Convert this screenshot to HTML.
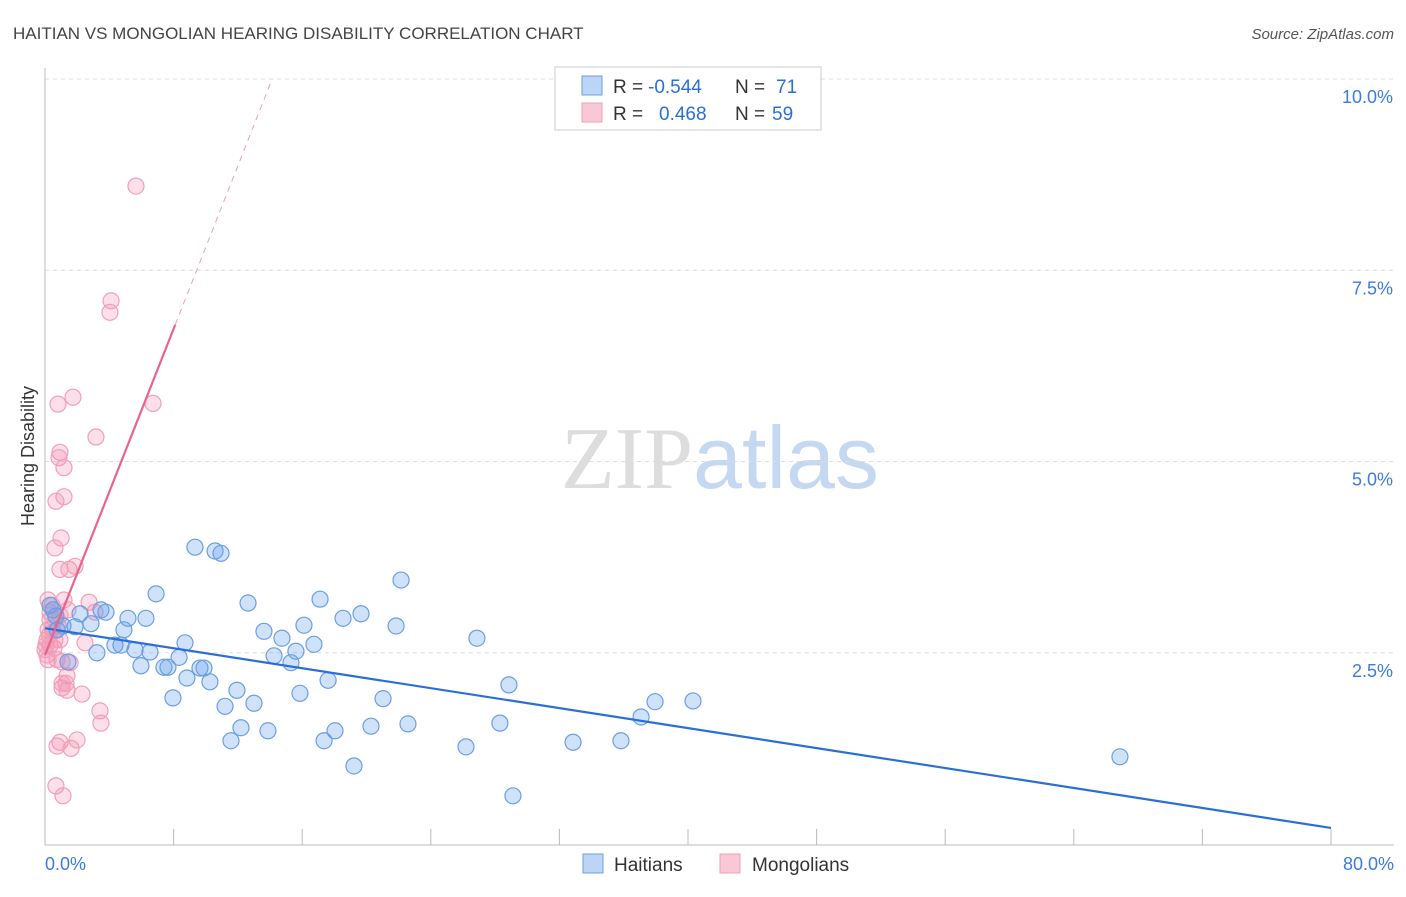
<!DOCTYPE html>
<html><head><meta charset="utf-8"><style>
body{margin:0;background:#fff;font-family:"Liberation Sans",sans-serif}
</style></head><body>
<svg id="chart" width="1406" height="892" viewBox="0 0 1406 892" xmlns="http://www.w3.org/2000/svg" font-family="Liberation Sans, sans-serif">
<text x="13" y="39" font-size="17" fill="#444">HAITIAN VS MONGOLIAN HEARING DISABILITY CORRELATION CHART</text>
<text x="1394" y="39" font-size="15" fill="#555" text-anchor="end" font-style="italic">Source: ZipAtlas.com</text>
<text x="720" y="488" text-anchor="middle" font-size="88"><tspan fill="#ddd" font-family="Liberation Serif, serif">ZIP</tspan><tspan fill="#c5d8f2">atlas</tspan></text>
<g id="grid"></g><g id="axes"></g><g id="pts"></g><g id="lines"></g>
<text transform="translate(34,456) rotate(-90)" text-anchor="middle" font-size="18" fill="#333">Hearing Disability</text>
<g>
<rect x="555" y="67" width="266" height="63" fill="#fff" stroke="#ccc"/>
<rect x="582" y="76" width="20" height="19" fill="#bcd4f5" stroke="#6a9fe0"/>
<rect x="582" y="103" width="20" height="19" fill="#f9c8d6" stroke="#f0a0b8"/>
<text x="613" y="93" font-size="19" fill="#333">R =</text>
<text x="648" y="93" font-size="19" fill="#2a6fd6">-0.544</text>
<text x="735" y="93" font-size="19" fill="#333">N =</text>
<text x="776" y="93" font-size="19" fill="#2a6fd6">71</text>
<text x="613" y="120" font-size="19" fill="#333">R =</text>
<text x="659" y="120" font-size="19" fill="#2a6fd6">0.468</text>
<text x="735" y="120" font-size="19" fill="#333">N =</text>
<text x="772" y="120" font-size="19" fill="#2a6fd6">59</text>
</g>
<g>
<rect x="583" y="854" width="20" height="19" fill="#bcd4f5" stroke="#6a9fe0"/>
<text x="614" y="871" font-size="19" fill="#333">Haitians</text>
<rect x="720" y="854" width="20" height="19" fill="#f9c8d6" stroke="#f0a0b8"/>
<text x="752" y="871" font-size="19" fill="#333">Mongolians</text>
</g>
</svg>
<script>
const blueX=[9.33,10.58,10.95,6.91,12.63,22.15,17.11,19.66,18.54,21.84,26.87,13.62,14.74,16.11,16.73,8.71,5.16,6.28,3.79,3.48,2.18,2.86,1.87,1.12,0.68,0.50,0.31,4.91,4.35,4.73,5.60,6.53,3.23,1.43,7.40,7.65,5.97,8.34,9.64,9.89,8.83,10.26,11.94,14.25,15.61,15.30,17.61,15.86,7.96,11.20,13.00,21.03,28.86,37.95,40.31,37.08,28.30,22.58,20.28,18.04,17.36,12.19,13.87,11.57,26.19,32.85,35.83,19.22,66.87,29.11,0.75];
const blueY=[3.88,3.83,3.80,3.27,3.15,3.45,3.20,3.01,2.95,2.85,2.69,2.78,2.69,2.86,2.61,2.63,2.95,2.95,3.03,3.06,3.01,2.88,2.84,2.85,2.98,3.06,3.12,2.80,2.60,2.60,2.54,2.51,2.50,2.38,2.31,2.31,2.33,2.44,2.30,2.30,2.17,2.12,2.01,2.46,2.52,2.37,2.14,1.97,1.91,1.80,1.84,1.90,2.08,1.86,1.87,1.66,1.58,1.57,1.54,1.48,1.35,1.52,1.48,1.35,1.27,1.33,1.35,1.02,1.14,0.63,2.80];
const pinkX=[5.66,4.11,4.04,6.72,1.74,0.81,3.17,0.93,0.87,1.18,1.18,0.68,1.00,0.62,0.93,1.49,1.87,2.74,3.11,0.19,0.31,0.62,0.44,0.25,0.12,0.31,0.56,0.93,1.18,1.43,2.49,1.06,0.75,1.56,1.37,1.31,1.06,1.37,2.30,3.42,1.06,3.48,1.99,0.93,0.75,1.62,0.68,1.12,0.19,0.31,0.44,0.12,0.06,0.19,0.62,0.81,0.50,0.00,0.93];
const pinkY=[8.60,7.10,6.95,5.76,5.84,5.75,5.32,5.12,5.05,4.92,4.54,4.48,4.00,3.87,3.59,3.59,3.63,3.16,3.03,3.19,3.03,2.93,2.82,2.73,2.67,2.60,2.56,2.67,3.19,3.06,2.63,2.38,2.41,2.37,2.20,2.10,2.04,2.01,1.96,1.74,2.10,1.58,1.36,1.33,1.28,1.25,0.76,0.63,2.80,2.93,3.12,2.47,2.60,2.41,2.67,2.86,2.77,2.54,2.99];
const blueTrend=[2.82,0.21];
const pinkTrend=[2.47,0.533];
const yTicks=[2.5,5.0,7.5,10.0];
const xTickLabels=["0.0%","80.0%"];
const NS="http://www.w3.org/2000/svg";
const X=v=>45+v*16.075, Y=v=>844-v*76.5;
function mk(t,a,p){const e=document.createElementNS(NS,t);for(const k in a)e.setAttribute(k,a[k]);document.getElementById(p).appendChild(e);return e;}
yTicks.forEach(t=>{
  const l=mk('line',{x1:45,x2:1394,y1:Y(t),y2:Y(t),stroke:'#ddd','stroke-dasharray':'4,4'},'grid');
  
  
  const tx=mk('text',{x:1393,y:Y(t)+24,'text-anchor':'end','font-size':18,fill:'#3b7be0'},'axes');
  tx.textContent=t.toFixed(1)+'%';
  
  
});
const ax=mk('line',{x1:45,x2:45,y1:68,y2:845,stroke:'#bbb'},'axes');


const bx=mk('line',{x1:45,x2:1394,y1:845,y2:845,stroke:'#bbb'},'axes');


for(let i=1;i<=10;i++){const t=mk('line',{x1:X(i*8),x2:X(i*8),y1:829,y2:845,stroke:'#bbb'},'axes');
  
  }
[[0,xTickLabels[0],'start',45],[80,xTickLabels[1],'end',1394]].forEach(d=>{
  const t=mk('text',{x:d[3],y:870,'text-anchor':d[2],'font-size':18,fill:'#3b7be0'},'axes');t.textContent=d[1];
  
  });
pinkX.forEach((x,i)=>{const c=mk('circle',{cx:X(x),cy:Y(pinkY[i]),r:8,fill:'rgba(244,150,180,0.3)',stroke:'#f0a0b8','stroke-width':1.2},'pts');
  
  });
blueX.forEach((x,i)=>{const c=mk('circle',{cx:X(x),cy:Y(blueY[i]),r:8,fill:'rgba(100,160,240,0.3)',stroke:'#6a9fe0','stroke-width':1.2},'pts');
  
  });
const bl=mk('line',{x1:X(0),y1:Y(blueTrend[0]),x2:X(80),y2:Y(blueTrend[1]),stroke:'#2a6fd6','stroke-width':2.2},'lines');


const pEnd=8.1, pMax=(10-pinkTrend[0])/pinkTrend[1];
const pl=mk('line',{x1:X(0),y1:Y(pinkTrend[0]),x2:X(pEnd),y2:Y(pinkTrend[0]+pinkTrend[1]*pEnd),stroke:'#e8648c','stroke-width':2.2},'lines');


const pd=mk('line',{x1:X(pEnd),y1:Y(pinkTrend[0]+pinkTrend[1]*pEnd),x2:X(pMax),y2:Y(10),stroke:'#eaa0b8','stroke-width':1,'stroke-dasharray':'6,5'},'lines');


</script>
</body></html>
